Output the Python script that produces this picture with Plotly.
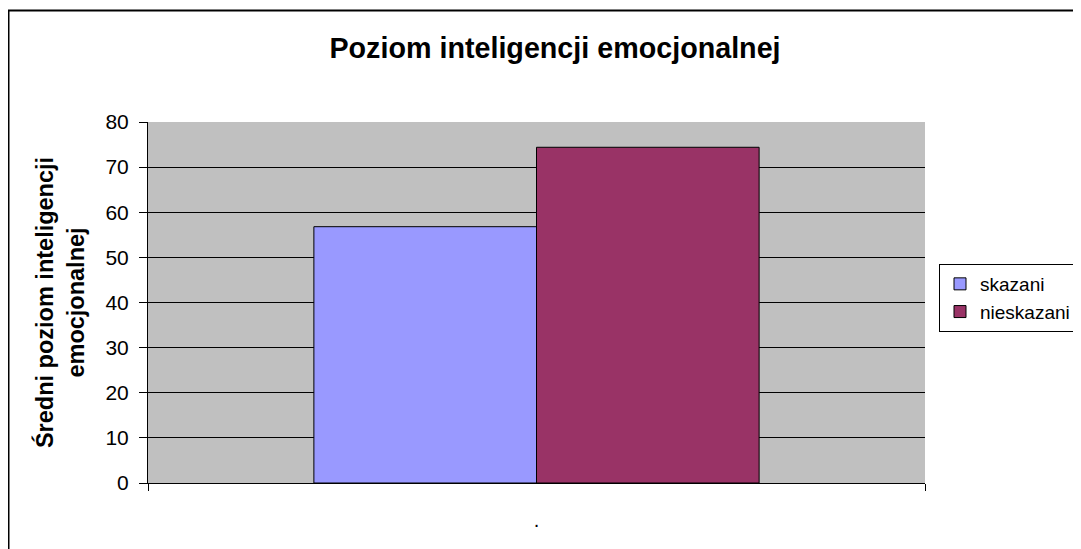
import plotly.graph_objects as go

categories = ["."]
series_names = ["skazani", "nieskazani"]
skazani = [56.8]
nieskazani = [74.4]
colors = ["#9999FF", "#993366"]
y_ticks = [0, 10, 20, 30, 40, 50, 60, 70, 80]

FONT = "Liberation Sans, Arial, sans-serif"

W, H = 1073, 541
L, R, T, B = 140, 156, 114, 66
PW, PH = W - L - R, H - T - B

fig = go.Figure()
for name, vals, col in zip(series_names, [skazani, nieskazani], colors):
    fig.add_trace(go.Bar(
        x=categories, y=vals, name=name,
        marker=dict(color=col, line=dict(color="black", width=1)),
    ))

fig.update_layout(
    width=W, height=H,
    margin=dict(l=L, r=R, t=T, b=B, autoexpand=False),
    paper_bgcolor="white",
    plot_bgcolor="#C0C0C0",
    barmode="group",
    bargap=0.427,
    bargroupgap=0,
    font=dict(family=FONT, size=20, color="black"),
    title=dict(
        text="<b>Poziom inteligencji emocjonalnej</b>",
        x=(555 - 8 - L) / PW, xanchor="center", xref="paper",
        y=1 - 40 / H, yanchor="middle", yref="container",
        font=dict(family=FONT, size=28.7, color="black"),
    ),
    legend=dict(
        x=(931 - L) / PW, y=1 - (256 - T) / PH, xanchor="left", yanchor="top",
        bgcolor="white", bordercolor="black", borderwidth=1,
        font=dict(family=FONT, size=19, color="black"),
        itemwidth=30, tracegroupgap=0,
    ),
    showlegend=True,
)

fig.update_yaxes(
    range=[0, 80], tickvals=y_ticks,
    showgrid=True, gridcolor="black", gridwidth=1,
    showline=True, linecolor="black", linewidth=1,
    ticks="outside", ticklen=8, tickcolor="black",
    tickfont=dict(family=FONT, size=21),
    ticklabelstandoff=6,
    zeroline=False,
    title=dict(text="<b>Średni poziom inteligencji<br>emocjonalnej</b>",
               font=dict(family=FONT, size=23.5), standoff=14),
)
fig.update_xaxes(
    type="category",
    showline=True, linecolor="black", linewidth=1,
    ticks="outside", ticklen=7, tickcolor="black",
    tickson="boundaries",
    tickfont=dict(family=FONT, size=20),
    ticklabelstandoff=19,
    showgrid=False,
)

# outer chart-area border
fig.add_shape(type="rect", xref="paper", yref="paper",
              x0=(0.5 - L) / PW, x1=1.3, y0=-0.4, y1=1 + (T - 2.5) / PH,
              line=dict(color="black", width=2), fillcolor="rgba(0,0,0,0)", layer="below")

fig.write_html("out.html")
